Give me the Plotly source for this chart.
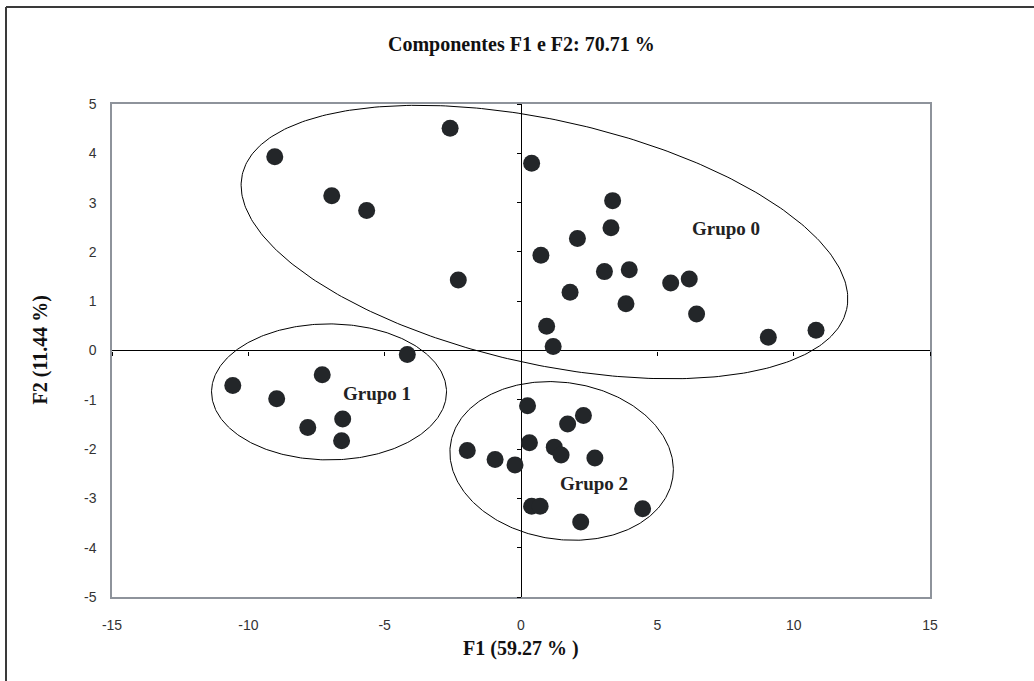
import numpy as np
import plotly.graph_objects as go

# ---------------- data ----------------
g0_x = [-9.03, -6.94, -5.66, -2.60, -2.30, 0.39, 3.36, 3.30, 2.07, 0.73, 3.06,
        3.97, 1.80, 3.85, 5.49, 6.17, 6.44, 0.94, 1.18, 9.07, 10.82]
g0_y = [3.93, 3.14, 2.84, 4.51, 1.43, 3.80, 3.04, 2.49, 2.27, 1.93, 1.60,
        1.64, 1.18, 0.95, 1.37, 1.45, 0.74, 0.49, 0.08, 0.27, 0.41]

g1_x = [-10.57, -8.96, -7.29, -4.17, -6.54, -7.82, -6.58]
g1_y = [-0.71, -0.98, -0.49, -0.08, -1.39, -1.56, -1.83]

g2_x = [0.24, 2.29, 1.71, 0.31, 1.22, 1.47, 2.71, -1.97, -0.95, -0.22,
        0.39, 0.70, 2.19, 4.46]
g2_y = [-1.12, -1.32, -1.49, -1.87, -1.96, -2.12, -2.18, -2.03, -2.21, -2.32,
        -3.16, -3.16, -3.48, -3.21]

group_labels = ["Grupo 0", "Grupo 1", "Grupo 2"]
label_x = [7.52, -5.29, 2.68]
label_y = [2.47, -0.88, -2.70]

# ellipse parameters (centre in data units, semi-axes in screen px, angle in deg)
ell_cx = [0.86, -7.04, 1.49]
ell_cy = [2.20, -0.84, -2.24]
ell_a = [309.6, 117.5, 112.4]
ell_b = [121.9, 68.0, 78.4]
ell_ang = [12.57, 0.0, 8.7]

x_ticks = [-15, -10, -5, 0, 5, 10, 15]
y_ticks = [-5, -4, -3, -2, -1, 0, 1, 2, 3, 4, 5]

title_text = "Componentes F1 e F2: 70.71 %"
xtitle_text = "F1 (59.27 % )"
ytitle_text = "F2 (11.44 %)"

# ---------------- layout constants ----------------
W, H = 1034, 681
ML, MR, MT, MB = 112, 104, 104, 84
PW, PH = W - ML - MR, H - MT - MB
XR, YR = [-15, 15], [-5, 5]
PXX = PW / (XR[1] - XR[0])
PXY = PH / (YR[1] - YR[0])

serif = "Liberation Serif"
sans = "Liberation Sans"
dot_color = "#232629"

fig = go.Figure()

# ellipses
t = np.linspace(0, 2 * np.pi, 361)
for cx, cy, a, b, ang in zip(ell_cx, ell_cy, ell_a, ell_b, ell_ang):
    th = np.deg2rad(ang)
    dxp = a * np.cos(t) * np.cos(th) - b * np.sin(t) * np.sin(th)
    dyp = a * np.cos(t) * np.sin(th) + b * np.sin(t) * np.cos(th)
    fig.add_trace(go.Scatter(x=cx + dxp / PXX, y=cy - dyp / PXY, mode="lines",
                             line=dict(color="black", width=1),
                             hoverinfo="skip", showlegend=False))

for xs, ys in [(g0_x, g0_y), (g1_x, g1_y), (g2_x, g2_y)]:
    fig.add_trace(go.Scatter(x=xs, y=ys, mode="markers",
                             marker=dict(size=17, color=dot_color,
                                         line=dict(width=0)),
                             showlegend=False))

# invisible trace for the crossing axes (ticks on zero lines)
fig.add_trace(go.Scatter(x=[None], y=[None], xaxis="x2", yaxis="y2",
                         showlegend=False, hoverinfo="skip"))

for txt, lx, ly in zip(group_labels, label_x, label_y):
    fig.add_annotation(x=lx, y=ly, text="<b>%s</b>" % txt, showarrow=False,
                       xanchor="center", yanchor="middle",
                       font=dict(family=serif, size=19, color="#222"))

fig.add_annotation(xref="paper", yref="paper", x=0.5, y=(PH + MT - 44) / PH,
                   text="<b>%s</b>" % title_text, showarrow=False,
                   xanchor="center", yanchor="middle",
                   font=dict(family=serif, size=20, color="#111"))
fig.add_annotation(xref="paper", yref="paper", x=0.5, y=-(648 - MT - PH) / PH,
                   text="<b>%s</b>" % xtitle_text, showarrow=False,
                   xanchor="center", yanchor="middle",
                   font=dict(family=serif, size=20, color="#111"))
fig.add_annotation(xref="paper", yref="paper", x=(40 - ML) / PW, y=0.5,
                   text="<b>%s</b>" % ytitle_text, showarrow=False, textangle=-90,
                   xanchor="center", yanchor="middle",
                   font=dict(family=serif, size=20, color="#111"))

# outer chart border (top and left)
fig.add_shape(type="line", xref="paper", yref="paper",
              x0=(6 - ML) / PW, x1=(W + 5 - ML) / PW,
              y0=(PH + MT - 7) / PH, y1=(PH + MT - 7) / PH,
              line=dict(color="#3a3a3a", width=2))
fig.add_shape(type="line", xref="paper", yref="paper",
              x0=(6 - ML) / PW, x1=(6 - ML) / PW,
              y0=(PH + MT - 7) / PH, y1=-(H + 5 - MT - PH) / PH,
              line=dict(color="#3a3a3a", width=2))

axis_common = dict(showgrid=False, showline=True, mirror=True,
                   linecolor="#8e939b", linewidth=1.5,
                   zeroline=True, zerolinecolor="black", zerolinewidth=1,
                   ticks="", tickfont=dict(family=sans, size=14, color="#333"))

fig.update_layout(
    width=W, height=H,
    margin=dict(l=ML, r=MR, t=MT, b=MB),
    paper_bgcolor="white", plot_bgcolor="white",
    xaxis=dict(range=XR, tickvals=x_ticks, ticktext=[str(v) for v in x_ticks],
               ticklabelstandoff=14, **axis_common),
    yaxis=dict(range=YR, tickvals=y_ticks, ticktext=[str(v) for v in y_ticks],
               ticklabelstandoff=11, **axis_common),
    xaxis2=dict(overlaying="x", anchor="free", position=0.5, range=XR,
                tickvals=x_ticks, ticks="outside", ticklen=4, tickwidth=1,
                tickcolor="black", showticklabels=False, showline=False,
                showgrid=False, zeroline=False),
    yaxis2=dict(overlaying="y", anchor="free", position=0.5, range=YR,
                tickvals=y_ticks, ticks="outside", ticklen=4, tickwidth=1,
                tickcolor="black", showticklabels=False, showline=False,
                showgrid=False, zeroline=False),
    showlegend=False,
)

fig.write_html("out.html")
